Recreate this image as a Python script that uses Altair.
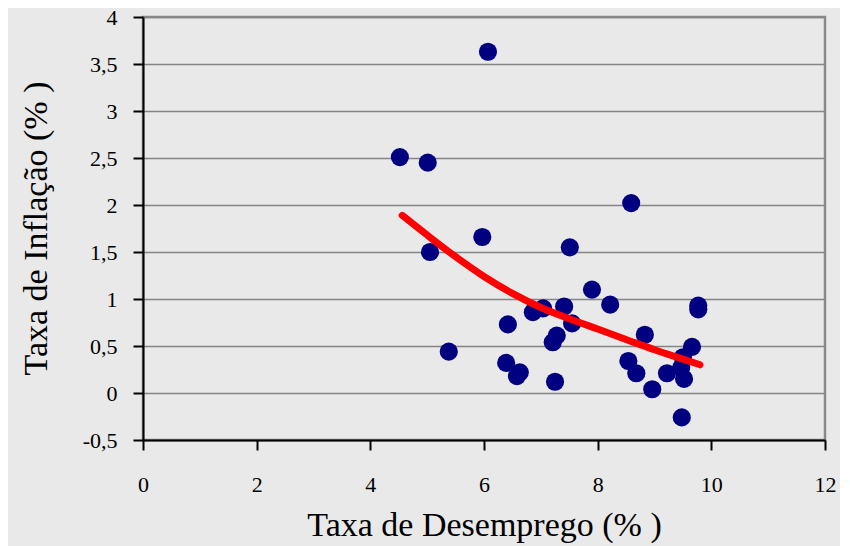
import altair as alt
import pandas as pd

# Scatter data (Taxa de Desemprego %, Taxa de Inflação %)
desemprego = [4.52, 5.01, 6.07, 5.05, 5.38, 5.97, 7.51, 8.59, 7.90, 8.22,
              6.42, 6.86, 7.04, 7.41, 7.55, 7.28, 7.21, 6.39, 6.63, 6.58,
              7.25, 8.83, 8.54, 8.68, 8.96, 9.22, 9.66, 9.50, 9.52, 9.47,
              9.77, 9.77, 9.48]
inflacao = [2.51, 2.45, 3.63, 1.50, 0.44, 1.66, 1.55, 2.02, 1.10, 0.94,
            0.73, 0.86, 0.90, 0.92, 0.74, 0.61, 0.54, 0.32, 0.22, 0.18,
            0.12, 0.62, 0.34, 0.21, 0.04, 0.21, 0.49, 0.38, 0.15, 0.27,
            0.93, 0.89, -0.26]

# Trend curve
trend_x = [4.56, 5.0, 5.5, 6.0, 6.5, 7.0, 7.5, 8.0, 8.5, 9.0, 9.5, 9.8]
trend_y = [1.89, 1.68, 1.45, 1.24, 1.06, 0.91, 0.79, 0.68, 0.57, 0.46, 0.36, 0.30]

x_ticks = [0, 2, 4, 6, 8, 10, 12]
y_ticks = [-0.5, 0, 0.5, 1, 1.5, 2, 2.5, 3, 3.5, 4]

pts = pd.DataFrame({"x": desemprego, "y": inflacao})
trend = pd.DataFrame({"x": trend_x, "y": trend_y})

FONT = "Liberation Serif"

xscale = alt.Scale(domain=[0, 12], nice=False, zero=False)
yscale = alt.Scale(domain=[-0.5, 4], nice=False, zero=False)

xaxis = alt.Axis(
    values=x_ticks, grid=False, title="Taxa de Desemprego (% )",
    labelExpr="toString(datum.value)", labelFlush=False,
    labelFont=FONT, labelFontSize=22, labelColor="black", labelPadding=24,
    tickSize=10, tickColor="black", tickWidth=2,
    domainColor="black", domainWidth=2,
    titleFont=FONT, titleFontSize=34, titleFontWeight="normal", titleColor="black",
    titleX=341, titleY=85, titleBaseline="middle", titleAlign="center",
)
yaxis = alt.Axis(
    values=y_ticks, grid=True, gridColor="#858585", gridWidth=1.5,
    title="Taxa de Inflação (% )",
    labelExpr="replace(toString(datum.value), '.', ',')", labelFlush=False,
    labelFont=FONT, labelFontSize=22, labelColor="black", labelPadding=16,
    tickSize=10, tickColor="black", tickWidth=2,
    domainColor="black", domainWidth=2,
    titleFont=FONT, titleFontSize=34, titleFontWeight="normal", titleColor="black",
    titleX=-107, titleY=211, titleBaseline="middle", titleAlign="center", titleAngle=270,
)

points = alt.Chart(pts).mark_circle(size=330, color="#000080", opacity=1).encode(
    x=alt.X("x:Q", scale=xscale, axis=xaxis),
    y=alt.Y("y:Q", scale=yscale, axis=yaxis),
)

line = alt.Chart(trend).mark_line(color="#ff0000", strokeWidth=7, strokeCap="round",
                                  interpolate="monotone").encode(
    x=alt.X("x:Q", scale=xscale),
    y=alt.Y("y:Q", scale=yscale),
)

chart = alt.layer(points, line).properties(
    width=682, height=423,
    autosize=alt.AutoSizeParams(type="none"),
    padding={"left": 135, "top": 9, "right": 15, "bottom": 106},
    background="#e9e9e9",
).configure_view(
    fill="#e9e9e9", stroke="#8a8a8a", strokeWidth=2.5,
)

chart.save("out.html", embed_options={"renderer": "svg", "actions": False})
